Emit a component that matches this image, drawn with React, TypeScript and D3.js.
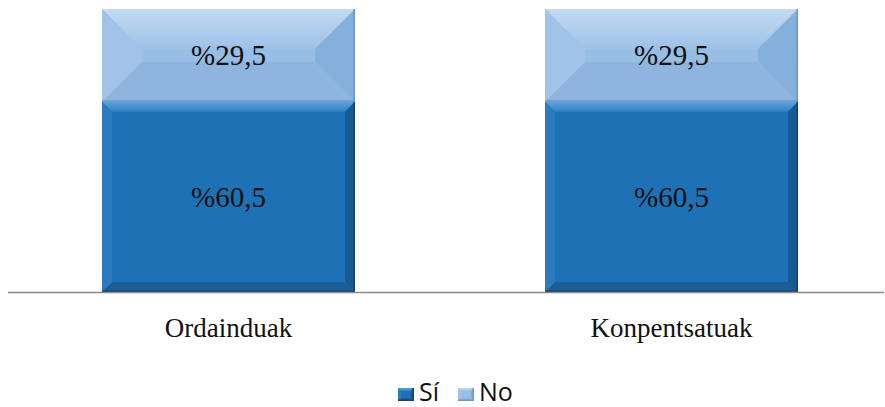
import React from "react";
import * as d3 from "d3";

const categories = ["Ordainduak", "Konpentsatuak"];
const seriesNames = ["Sí", "No"];
const siValues = [60.5, 60.5];
const noValues = [29.5, 29.5];
const valueLabels = [["%60,5", "%60,5"], ["%29,5", "%29,5"]];

const W = 885;
const H = 407;

type Pal = { top: string; topIn: string; left: string; right: string; bottom: string; center: string; edge: string };
const palettes: Pal[] = [
  { top: "#5aa3dc", topIn: "#2f80c4", left: "#2a7bbf", right: "#185a92", bottom: "#1b5e97", center: "#1f71b6", edge: "#1c3f62" },
  { top: "#c4dbf2", topIn: "#9dc1e7", left: "#a0c3e7", right: "#86b0dc", bottom: "#8fb5de", center: "#98bee4", edge: "#6d95c2" },
];
const bevels = [10, 40];

function Bevel({ x0, y0, w, h, b, pal, id }: { x0: number; y0: number; w: number; h: number; b: number; pal: Pal; id: string }) {
  const x1 = x0 + w;
  const y1 = y0 + h;
  const bx = Math.min(b, w / 2);
  const by = Math.min(b, h / 2);
  const pts = (a: number[][]) => a.map((p) => p.join(",")).join(" ");
  return (
    <g>
      <defs>
        <linearGradient id={id + "t"} x1="0" y1="0" x2="0" y2="1">
          <stop offset="0" stopColor={pal.top} />
          <stop offset="1" stopColor={pal.topIn} />
        </linearGradient>
      </defs>
      <rect x={x0} y={y0} width={w} height={h} fill={pal.center} />
      <polygon points={pts([[x0, y0], [x1, y0], [x1 - bx, y0 + by], [x0 + bx, y0 + by]])} fill={`url(#${id}t)`} />
      <polygon points={pts([[x0, y1], [x1, y1], [x1 - bx, y1 - by], [x0 + bx, y1 - by]])} fill={pal.bottom} />
      <polygon points={pts([[x0, y0], [x0 + bx, y0 + by], [x0 + bx, y1 - by], [x0, y1]])} fill={pal.left} />
      <polygon points={pts([[x1, y0], [x1 - bx, y0 + by], [x1 - bx, y1 - by], [x1, y1]])} fill={pal.right} />
      <line x1={x1 - 0.75} y1={y0} x2={x1 - 0.75} y2={y1} stroke={pal.edge} strokeWidth={1.5} />
      <line x1={x0} y1={y1 - 0.75} x2={x1} y2={y1 - 0.75} stroke={pal.edge} strokeWidth={1.5} />
    </g>
  );
}

export default function App() {
  const x = d3
    .scaleBand<string>()
    .domain(categories)
    .range([7, 893])
    .paddingInner(0.4289)
    .paddingOuter(0.2144);
  const y = d3.scaleLinear().domain([0, 90]).range([292, 9]);
  const stackData = categories.map((c, i) => ({ cat: c, Sí: siValues[i], No: noValues[i] }));
  const stacked = d3.stack<any>().keys(seriesNames)(stackData);

  return (
    <svg width={W} height={H} style={{ position: "absolute", left: 0, top: 0, background: "#fff" }}>
      {stacked.map((layer, si) =>
        layer.map((d, ci) => {
          const x0 = x(categories[ci])!;
          const yTop = y(d[1]);
          const yBot = y(d[0]);
          return (
            <g key={`${si}-${ci}`}>
              <Bevel x0={x0} y0={yTop} w={x.bandwidth()} h={yBot - yTop} b={bevels[si]} pal={palettes[si]} id={`g${si}${ci}`} />
              <text
                x={x0 + x.bandwidth() / 2}
                y={(yTop + yBot) / 2 + 10}
                textAnchor="middle"
                fontFamily="'Liberation Serif', 'Times New Roman', serif"
                fontSize={29}
                fill="#111"
              >
                {valueLabels[si][ci]}
              </text>
            </g>
          );
        })
      )}
      <line x1={8} x2={884} y1={y(0) + 0.5} y2={y(0) + 0.5} stroke="#8a8a8a" strokeWidth={1.5} />
      {categories.map((c) => (
        <text
          key={c}
          x={x(c)! + x.bandwidth() / 2}
          y={337}
          textAnchor="middle"
          fontFamily="'Liberation Serif', 'Times New Roman', serif"
          fontSize={27}
          fill="#111"
        >
          {c}
        </text>
      ))}
      {seriesNames.map((s, i) => {
        const lx = [398, 458][i];
        return (
          <g key={s}>
            <Bevel x0={lx} y0={388} w={16} h={13} b={3} pal={palettes[i]} id={`lg${i}`} />
            <text x={lx + 21} y={401} fontFamily="'Open Sans', 'DejaVu Sans', sans-serif" fontSize={25} fill="#111">
              {s}
            </text>
          </g>
        );
      })}
    </svg>
  );
}
